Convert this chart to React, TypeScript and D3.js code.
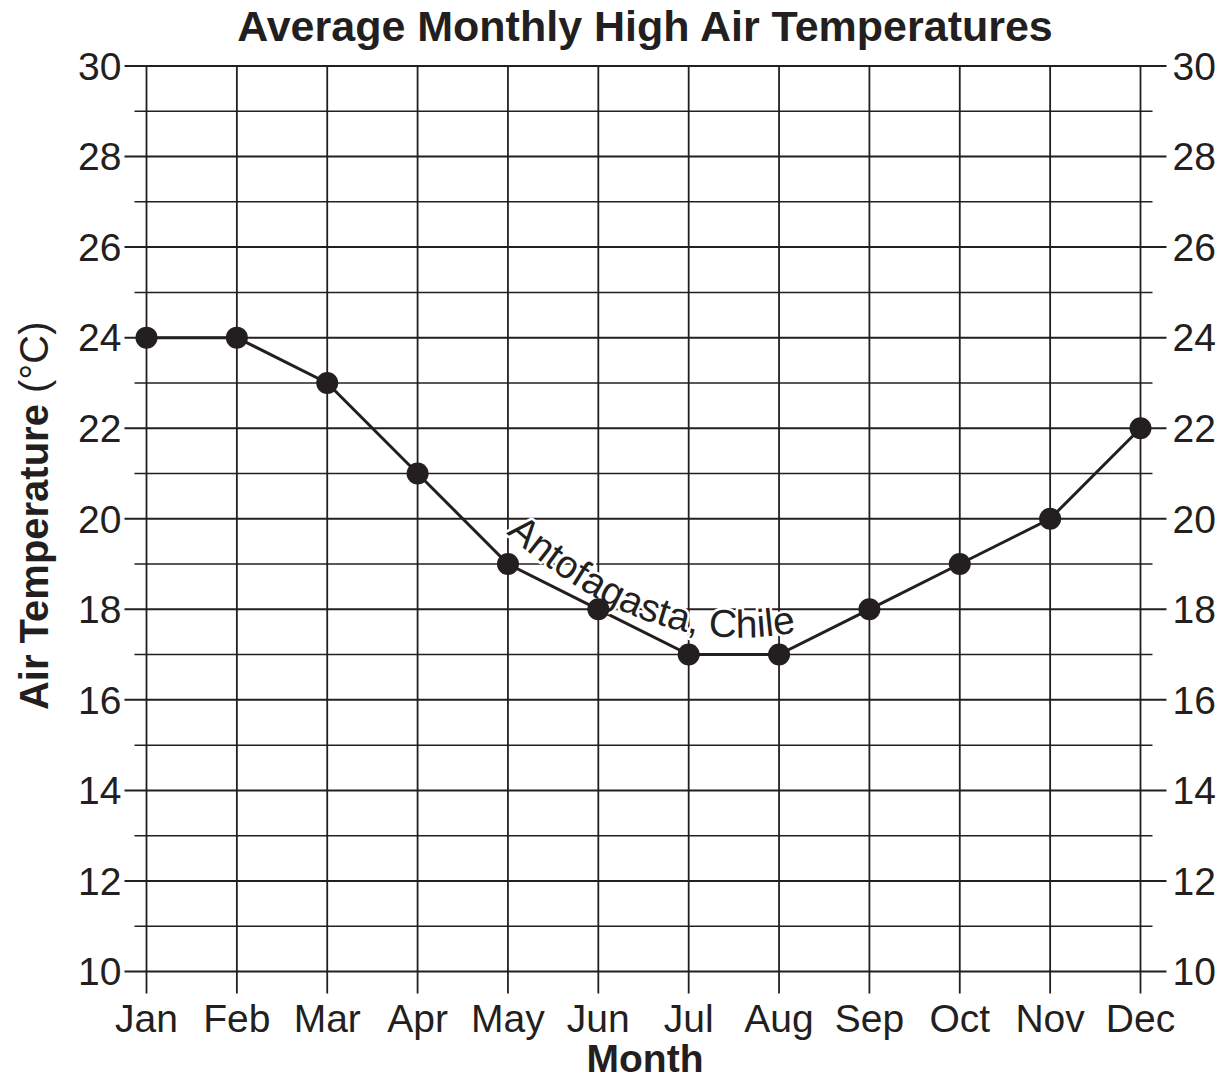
import React from "react";
import * as d3 from "d3";

const months = ["Jan", "Feb", "Mar", "Apr", "May", "Jun", "Jul", "Aug", "Sep", "Oct", "Nov", "Dec"];
const temps = [24, 24, 23, 21, 19, 18, 17, 17, 18, 19, 20, 22];
const yTicks = [10, 12, 14, 16, 18, 20, 22, 24, 26, 28, 30];
const yMinor = [11, 13, 15, 17, 19, 21, 23, 25, 27, 29];
const title = "Average Monthly High Air Temperatures";
const seriesLabel = "Antofagasta, Chile";

const FONT = "'Liberation Sans', Arial, Helvetica, sans-serif";

export default function App() {
  const W = 1224, H = 1081;
  const x = d3.scalePoint<string>().domain(months).range([146.5, 1140.5]);
  const y = d3.scaleLinear().domain([10, 30]).range([971.5, 66]);
  const line = d3.line<number>().x((_, i) => x(months[i])!).y(d => y(d));
  const x0 = x(months[0])!, x1 = x(months[months.length - 1])!;
  const labelPath = `M ${x("May")! - 2} ${y(19) - 31} Q ${x("Jun")! + 55} ${y(17) + 10} ${x("Aug")! + 24} ${y(17) - 24}`;
  return (
    <svg width={W} height={H} viewBox={`0 0 ${W} ${H}`} style={{ display: "block", position: "absolute", left: 0, top: 0, background: "#fff" }} fontFamily={FONT}>
      <rect width={W} height={H} fill="#fff" />
      {/* horizontal grid */}
      {yMinor.map(v => (
        <line key={"m" + v} x1={x0 - 12} x2={x1 + 12} y1={y(v)} y2={y(v)} stroke="#231f20" strokeWidth={1.5} />
      ))}
      {yTicks.map(v => (
        <line key={"t" + v} x1={x0 - 22} x2={x1 + 26} y1={y(v)} y2={y(v)} stroke="#231f20" strokeWidth={2} />
      ))}
      {/* vertical grid */}
      {months.map(m => (
        <line key={m} x1={x(m)} x2={x(m)} y1={y(30)} y2={y(10) + 22} stroke="#231f20" strokeWidth={1.8} />
      ))}
      {/* tick labels */}
      {yTicks.map(v => (
        <g key={"l" + v}>
          <text x={x0 - 25} y={y(v)} dy="0.355em" textAnchor="end" fontSize={39} fill="#231f20">{v}</text>
          <text x={x1 + 32} y={y(v)} dy="0.355em" textAnchor="start" fontSize={39} fill="#231f20">{v}</text>
        </g>
      ))}
      {months.map(m => (
        <text key={"x" + m} x={x(m)} y={1032} textAnchor="middle" fontSize={39} fill="#231f20">{m}</text>
      ))}
      {/* series */}
      <path d={line(temps) || ""} fill="none" stroke="#231f20" strokeWidth={3} />
      <defs>
        <path id="lblpath" d={labelPath} />
      </defs>
      <text fontSize={39} fill="#231f20" stroke="#fff" strokeWidth={5} paintOrder="stroke" strokeLinejoin="round">
        <textPath href="#lblpath">{seriesLabel}</textPath>
      </text>
      {temps.map((t, i) => (
        <circle key={"c" + i} cx={x(months[i])} cy={y(t)} r={11} fill="#231f20" />
      ))}
      {/* titles */}
      <text x={645} y={41} textAnchor="middle" fontSize={43} fontWeight="bold" fill="#231f20">{title}</text>
      <text x={645} y={1072} textAnchor="middle" fontSize={39} fontWeight="bold" fill="#231f20">Month</text>
      <text transform={`translate(48, ${y(20) - 3}) rotate(-90)`} textAnchor="middle" fontSize={40} fill="#231f20">
        <tspan fontWeight="bold">Air Temperature</tspan>
        <tspan> (°C)</tspan>
      </text>
    </svg>
  );
}
